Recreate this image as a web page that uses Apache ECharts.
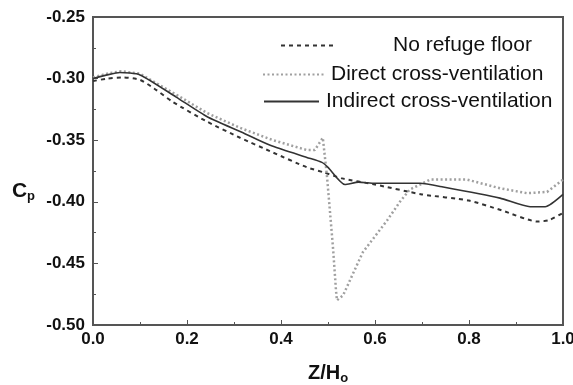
<!DOCTYPE html>
<html lang="en">
<head>
    <meta charset="UTF-8">
    <title>Cp vs Z/Ho</title>
    <script type="text/javascript" src="https://cdn.jsdelivr.net/npm/echarts@6/dist/echarts.min.js"></script>
    <style>
        html, body { margin: 0; padding: 0; background: #fff; }
        #myChart { width: 573px; height: 385px; }
    </style>
</head>
<body>
<div id="myChart"></div>

<script type="text/javascript">
    // x ticks
    var xTicks = [0.0, 0.2, 0.4, 0.6, 0.8, 1.0];
    var yTicks = [-0.25, -0.30, -0.35, -0.40, -0.45, -0.50];

    // No refuge floor (dashed)
    var zNoRefuge = [0, 0.03, 0.065, 0.1, 0.13, 0.17, 0.243, 0.313, 0.383, 0.455, 0.49, 0.53, 0.6, 0.7, 0.8, 0.87, 0.945, 0.97, 1.0];
    var cpNoRefuge = [-0.302, -0.300, -0.299, -0.301, -0.308, -0.319, -0.335, -0.348, -0.360, -0.372, -0.376, -0.381, -0.386, -0.394, -0.399, -0.407, -0.416, -0.415, -0.409];

    // Direct cross-ventilation (dotted)
    var zDirect = [0, 0.03, 0.06, 0.1, 0.177, 0.243, 0.313, 0.383, 0.455, 0.472, 0.489, 0.498, 0.504, 0.511, 0.517, 0.519, 0.532, 0.574, 0.626, 0.653, 0.674, 0.696, 0.717, 0.796, 0.866, 0.923, 0.966, 1.0];
    var cpDirect = [-0.299, -0.296, -0.294, -0.296, -0.313, -0.328, -0.340, -0.350, -0.358, -0.358, -0.348, -0.380, -0.407, -0.439, -0.472, -0.480, -0.476, -0.441, -0.415, -0.400, -0.390, -0.386, -0.382, -0.382, -0.389, -0.393, -0.392, -0.382];

    // Indirect cross-ventilation (solid)
    var zIndirect = [0, 0.03, 0.057, 0.1, 0.177, 0.243, 0.313, 0.383, 0.455, 0.487, 0.5, 0.536, 0.565, 0.6, 0.696, 0.745, 0.866, 0.93, 0.962, 1.0];
    var cpIndirect = [-0.300, -0.297, -0.295, -0.297, -0.315, -0.331, -0.343, -0.355, -0.364, -0.368, -0.372, -0.386, -0.384, -0.385, -0.385, -0.388, -0.397, -0.404, -0.404, -0.394];

    function pairs(xs, ys) {
        var out = [];
        for (var i = 0; i < xs.length; i++) {
            out.push([xs[i], ys[i]]);
        }
        return out;
    }

    var font = 'Liberation Sans, Arial, sans-serif';
    var axisColor = '#555';

    // legend: line only, no marker
    function legendAt(name, left, top, width, pad) {
        return {
            data: [name],
            left: left, top: top,
            itemWidth: width, itemHeight: 14,
            itemStyle: { opacity: 0 },
            textStyle: { fontFamily: font, fontSize: 21, color: '#111', padding: [0, 0, 0, pad] }
        };
    }

    var myChart = echarts.init(document.getElementById('myChart'));
    myChart.setOption({
        animation: false,
        backgroundColor: '#fff',
        grid: {
            left: 93, right: 10, top: 17, bottom: 60,
            outerBoundsMode: 'none',
            show: true, borderColor: axisColor, borderWidth: 2
        },
        legend: [
            legendAt('No refuge floor', 275, 30, 55, 52),
            legendAt('Direct cross-ventilation', 257, 59, 63, 0),
            legendAt('Indirect cross-ventilation', 258, 86, 55, 2)
        ],
        xAxis: {
            type: 'value',
            min: xTicks[0], max: xTicks[xTicks.length - 1], interval: 0.2,
            name: '{a|Z/H}{b|o}',
            nameLocation: 'middle',
            nameGap: 37,
            nameTextStyle: {
                rich: {
                    a: { fontFamily: font, fontSize: 20, fontWeight: 'bold', color: '#111' },
                    b: { fontFamily: font, fontSize: 13, fontWeight: 'bold', color: '#111', padding: [10, 0, 0, 0] }
                }
            },
            axisLine: { lineStyle: { color: axisColor, width: 2 } },
            axisTick: { inside: true, length: 5, lineStyle: { color: axisColor } },
            minorTick: { show: true, splitNumber: 2, length: 3, lineStyle: { color: axisColor } },
            splitLine: { show: false },
            axisLabel: {
                margin: 6,
                fontFamily: font, fontSize: 17, fontWeight: 'bold', color: '#111',
                formatter: function (v) { return v.toFixed(1); }
            }
        },
        yAxis: {
            type: 'value',
            min: yTicks[yTicks.length - 1], max: yTicks[0], interval: 0.05,
            name: '{a|C}{b|p}',
            nameLocation: 'middle',
            nameRotate: 0,
            nameGap: 58,
            nameTextStyle: {
                padding: [40, 0, 0, 0],
                rich: {
                    a: { fontFamily: font, fontSize: 21, fontWeight: 'bold', color: '#111' },
                    b: { fontFamily: font, fontSize: 13, fontWeight: 'bold', color: '#111', padding: [10, 0, 0, 0] }
                }
            },
            axisLine: { show: true, lineStyle: { color: axisColor, width: 2 } },
            axisTick: { show: true, inside: true, length: 5, lineStyle: { color: axisColor } },
            minorTick: { show: true, splitNumber: 2, length: 3, lineStyle: { color: axisColor } },
            splitLine: { show: false },
            axisLabel: {
                margin: 8,
                fontFamily: font, fontSize: 17, fontWeight: 'bold', color: '#111',
                formatter: function (v) { return v.toFixed(2); }
            }
        },
        series: [{
            name: 'No refuge floor',
            type: 'line',
            symbol: 'none',
            smooth: 0.2,
            data: pairs(zNoRefuge, cpNoRefuge),
            lineStyle: { color: '#333', width: 2, type: [4, 4] },
            itemStyle: { color: '#333' }
        }, {
            name: 'Direct cross-ventilation',
            type: 'line',
            symbol: 'none',
            data: pairs(zDirect, cpDirect),
            lineStyle: { color: '#a0a0a0', width: 2.5, type: [2, 2.5] },
            itemStyle: { color: '#a0a0a0' }
        }, {
            name: 'Indirect cross-ventilation',
            type: 'line',
            symbol: 'none',
            smooth: 0.2,
            data: pairs(zIndirect, cpIndirect),
            lineStyle: { color: '#333', width: 1.6 },
            itemStyle: { color: '#333' }
        }]
    });
</script>
</body>
</html>
